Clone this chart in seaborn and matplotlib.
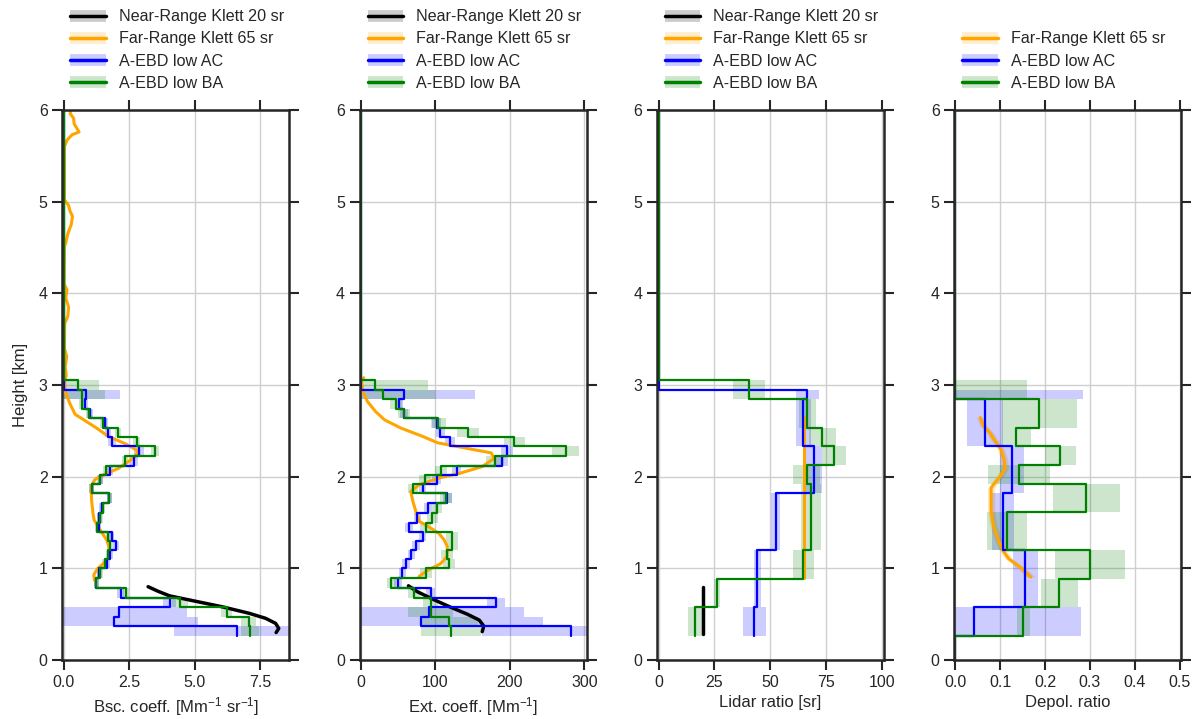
import numpy as np
import seaborn as sns
import matplotlib.pyplot as plt
from matplotlib.lines import Line2D
from matplotlib.legend_handler import HandlerTuple

sns.set_theme(style="ticks")
plt.rcParams['font.family'] = ['Liberation Sans', 'DejaVu Sans']
plt.rcParams['mathtext.default'] = 'regular'

# ---- A-EBD fine bins (bsc / ext), km
fine_edges = [0.26, 0.37, 0.47, 0.58, 0.68, 0.79, 0.89, 1.00, 1.10, 1.20, 1.30, 1.40, 1.50,
              1.60, 1.71, 1.82, 1.92, 2.02, 2.12, 2.23, 2.33, 2.43, 2.53, 2.64, 2.74, 2.85,
              2.95, 3.05, 6.00]

bsc_ac = [6.60, 1.92, 2.11, 4.04, 2.17, 1.24, 1.36, 1.67, 1.77, 2.00, 1.83, 1.33, 1.36,
          1.45, 1.74, 1.07, 1.40, 1.77, 2.68, 2.88, 1.83, 1.70, 1.58, 1.01, 0.80, 0.86,
          0.0, 0.0]
bsc_ac_err = [2.4, 3.2, 2.6, 0.25, 0.12, 0.1, 0.1, 0.1, 0.1, 0.1, 0.1, 0.1, 0.1,
              0.1, 0.1, 0.1, 0.1, 0.1, 0.15, 0.2, 0.15, 0.12, 0.12, 0.12, 0.12, 1.3,
              0.0, 0.0]
bsc_ba = [7.10, 7.05, 6.21, 4.44, 2.37, 1.25, 1.39, 1.58, 1.70, 1.77, 1.70, 1.29, 1.39,
          1.49, 1.74, 1.07, 1.39, 1.62, 2.34, 3.47, 2.78, 2.08, 1.52, 0.97, 0.69, 0.69,
          0.53, 0.0]
bsc_ba_err = [0.35, 0.3, 0.22, 0.3, 0.12, 0.1, 0.1, 0.1, 0.1, 0.1, 0.1, 0.1, 0.1,
              0.1, 0.1, 0.1, 0.1, 0.1, 0.12, 0.15, 0.15, 0.12, 0.12, 0.1, 0.1, 0.9,
              0.83, 0.0]

ext_ac = [282, 81, 91, 181, 94, 50, 56, 61, 68, 74, 83, 65, 76,
          90, 116, 83, 102, 129, 189, 196, 120, 107, 102, 58, 52, 58,
          0, 0]
ext_ac_err = [119, 163, 128, 12, 6, 5, 5, 5, 5, 5, 5, 5, 5,
              5, 6, 5, 6, 6, 8, 8, 7, 6, 6, 5, 5, 95,
              0, 0]
ext_ba = [121, 119, 94, 94, 72, 41, 88, 119, 116, 123, 123, 87, 96,
          102, 114, 70, 86, 108, 180, 275, 206, 144, 104, 58, 47, 30,
          19, 0]
ext_ba_err = [40, 38, 30, 10, 8, 6, 8, 8, 8, 8, 8, 7, 7,
              7, 8, 7, 8, 8, 12, 18, 14, 15, 10, 8, 8, 70,
              71, 0]

# ---- A-EBD coarse bins (lidar ratio / depol)
lr_ac_edges = [0.26, 0.58, 1.20, 1.82, 2.33, 2.85, 2.95, 6.00]
lr_ac = [42.9, 44.3, 52.5, 69.6, 64.9, 66.7, 0.0]
lr_ac_err = [5.2, 1.5, 2.0, 3.5, 3.5, 5.0, 0.0]
ba_edges = [0.26, 0.58, 0.88, 1.20, 1.62, 1.92, 2.13, 2.33, 2.53, 2.85, 3.06, 6.00]
lr_ba = [16.4, 26.2, 64.9, 68.2, 68.5, 66.4, 78.6, 73.4, 66.7, 40.6, 0.0]
lr_ba_err = [3.0, 1.5, 4.7, 4.5, 4.5, 6.0, 5.4, 6.0, 3.7, 7.2, 0.0]

dp_ac_edges = [0.0, 0.26, 0.58, 1.20, 1.82, 2.33, 2.85, 2.95, 6.00]
dp_ac = [0.0, 0.042, 0.156, 0.106, 0.126, 0.067, 0.0, 0.0]
dp_ac_err = [0.0, 0.237, 0.028, 0.025, 0.027, 0.040, 0.284, 0.0]
dp_ba_edges = [0.0, 0.26, 0.58, 0.88, 1.20, 1.62, 1.92, 2.13, 2.33, 2.53, 2.85, 3.06, 6.00]
dp_ba = [0.0, 0.152, 0.232, 0.301, 0.115, 0.292, 0.143, 0.234, 0.136, 0.187, 0.0, 0.0]
dp_ba_err = [0.0, 0.015, 0.041, 0.078, 0.044, 0.074, 0.069, 0.035, 0.032, 0.083, 0.16, 0.0]

# ---- Klett profiles
fr_bsc_h = [0.87, 0.93, 1.00, 1.06, 1.12, 1.20, 1.31, 1.42, 1.53, 1.60, 1.73, 1.85, 1.91,
            1.97, 2.02, 2.09, 2.17, 2.22, 2.28, 2.33, 2.37, 2.44, 2.53, 2.60, 2.68, 2.79,
            2.93, 3.05, 3.10, 3.20, 3.31, 3.40, 3.67, 3.75, 3.85, 3.95, 4.04, 4.10, 4.51,
            4.56, 4.65, 4.75, 4.84, 4.90, 4.96, 5.02, 5.60, 5.67, 5.73, 5.76, 5.85, 5.91,
            5.96, 6.00]
fr_bsc = [1.18, 1.15, 1.30, 1.55, 1.72, 1.77, 1.64, 1.39, 1.16, 1.12, 1.07, 1.05, 1.07,
          1.20, 1.52, 2.08, 2.50, 2.72, 2.84, 2.55, 2.27, 1.70, 1.26, 0.88, 0.44, 0.25,
          0.06, 0.04, 0.10, 0.06, 0.12, 0.03, 0.04, 0.16, 0.19, 0.08, 0.13, 0.02, 0.03,
          0.09, 0.16, 0.29, 0.34, 0.24, 0.19, 0.03, 0.03, 0.13, 0.32, 0.59, 0.40, 0.38,
          0.25, 0.28]
fr_ext_h = [0.91, 0.98, 1.05, 1.13, 1.24, 1.31, 1.38, 1.45, 1.51, 1.62, 1.73, 1.84, 1.91,
            1.99, 2.04, 2.11, 2.20, 2.26, 2.29, 2.37, 2.44, 2.53, 2.62, 2.71, 2.82, 2.93,
            3.04, 3.08]
fr_ext = [78, 90, 107, 116, 116, 112, 105, 92, 79, 74, 70, 67, 78,
          107, 134, 163, 179, 175, 155, 103, 83, 54, 32, 20, 9, 3,
          1, 4]
nr_bsc_h = [0.80, 0.75, 0.70, 0.64, 0.58, 0.51, 0.455, 0.40, 0.345, 0.30]
nr_bsc = [3.22, 3.60, 4.04, 5.05, 6.06, 7.07, 7.70, 8.08, 8.20, 8.10]
nr_ext_h = [0.81, 0.745, 0.655, 0.575, 0.50, 0.436, 0.371, 0.31]
nr_ext = [64, 76, 99, 121, 143, 159, 165, 163]
fr_lr, fr_lr_h = 65, [0.89, 2.65]
nr_lr, nr_lr_h = 20, [0.28, 0.80]
fr_dp_h = [0.905, 0.996, 1.106, 1.198, 1.344, 1.491, 1.637, 1.784, 1.875, 1.912, 2.004,
           2.095, 2.187, 2.297, 2.388, 2.480, 2.553, 2.645]
fr_dp = [0.168, 0.149, 0.119, 0.106, 0.093, 0.084, 0.080, 0.080, 0.080, 0.085, 0.100,
         0.111, 0.109, 0.102, 0.089, 0.077, 0.063, 0.056]
fr_dp_err = [0.010, 0.009, 0.008, 0.008, 0.008, 0.008, 0.008, 0.008, 0.008, 0.008, 0.008,
             0.008, 0.008, 0.008, 0.008, 0.008, 0.008, 0.008]

labels = ['Near-Range Klett 20 sr', 'Far-Range Klett 65 sr', 'A-EBD low AC', 'A-EBD low BA']
colors = ['black', 'orange', 'blue', 'green']


def steps(edges, vals):
    y = np.repeat(edges, 2)[1:-1]
    x = np.repeat(vals, 2)
    return x, y


def bands(ax, edges, vals, errs, color):
    for lo, hi, v, e in zip(edges[:-1], edges[1:], vals, errs):
        if e > 0:
            ax.fill_betweenx([lo, hi], v - e, v + e, color=color, alpha=0.2, lw=0)


def curve(ax, x, y, color, lw):
    sns.lineplot(x=x, y=y, sort=False, estimator=None, color=color, lw=lw, ax=ax, legend=False)


fig, axes = plt.subplots(1, 4, figsize=(11.98, 7.19), dpi=100)
fig.subplots_adjust(left=0.052, right=0.986, bottom=0.082, top=0.847, wspace=0.31)

panels = [
    dict(fr=(fr_bsc, fr_bsc_h), nr=(nr_bsc, nr_bsc_h),
         ac=(fine_edges, bsc_ac, bsc_ac_err), ba=(fine_edges, bsc_ba, bsc_ba_err),
         xlim=(-0.05, 8.6), xt=[0, 2.5, 5.0, 7.5],
         xl='Bsc. coeff. [Mm$^{-1}$ sr$^{-1}$]'),
    dict(fr=(fr_ext, fr_ext_h), nr=(nr_ext, nr_ext_h),
         ac=(fine_edges, ext_ac, ext_ac_err), ba=(fine_edges, ext_ba, ext_ba_err),
         xlim=(-1.5, 303), xt=[0, 100, 200, 300], xl='Ext. coeff. [Mm$^{-1}$]'),
    dict(fr=([fr_lr, fr_lr], fr_lr_h), nr=([nr_lr, nr_lr], nr_lr_h),
         ac=(lr_ac_edges, lr_ac, lr_ac_err), ba=(ba_edges, lr_ba, lr_ba_err),
         xlim=(-0.7, 101), xt=[0, 25, 50, 75, 100], xl='Lidar ratio [sr]'),
    dict(fr=(fr_dp, fr_dp_h), nr=None,
         ac=(dp_ac_edges, dp_ac, dp_ac_err), ba=(dp_ba_edges, dp_ba, dp_ba_err),
         xlim=(-0.002, 0.503), xt=[0, 0.1, 0.2, 0.3, 0.4, 0.5], xl='Depol. ratio'),
]

for i, (ax, p) in enumerate(zip(axes, panels)):
    ax.set_axisbelow(True)
    ax.grid(True, color='#cfcfcf', lw=1.0)
    if i == 3:
        ax.fill_betweenx(fr_dp_h, np.array(fr_dp) - np.array(fr_dp_err),
                         np.array(fr_dp) + np.array(fr_dp_err), color='orange', alpha=0.25, lw=0)
    curve(ax, p['fr'][0], p['fr'][1], 'orange', 2.2)
    if p['nr'] is not None:
        curve(ax, p['nr'][0], p['nr'][1], 'black', 2.5)
    bands(ax, *p['ac'], 'blue')
    bands(ax, *p['ba'], 'green')
    for key, c in (('ac', 'blue'), ('ba', 'green')):
        x, y = steps(p[key][0], p[key][1])
        curve(ax, x, y, c, 1.6)

    ax.set_xlim(*p['xlim'])
    ax.set_ylim(0, 6)
    ax.set_xticks(p['xt'])
    ax.set_yticks(range(7))
    ax.set_xlabel(p['xl'], fontsize=12)
    ax.set_ylabel('Height [km]' if i == 0 else '', fontsize=12, labelpad=8)
    ax.tick_params(top=True, right=True, labeltop=False, labelright=False,
                   direction='out', length=7, width=1.5, labelsize=11.5, color='#262626')
    for s in ax.spines.values():
        s.set_linewidth(1.8)
        s.set_color('#262626')

    idx = [0, 1, 2, 3] if p['nr'] is not None else [1, 2, 3]
    handles = [(Line2D([], [], color=colors[k], lw=8.5, alpha=0.2, solid_capstyle='butt'),
                Line2D([], [], color=colors[k], lw=2.5)) for k in idx]
    ax.legend(handles, [labels[k] for k in idx],
              handler_map={tuple: HandlerTuple(ndivide=1, pad=0)},
              loc='lower left', bbox_to_anchor=(0, 1.02), borderaxespad=0.1,
              frameon=False, fontsize=11.6, handlelength=2.2, labelspacing=0.45)

fig.savefig('out.png', dpi=100)
